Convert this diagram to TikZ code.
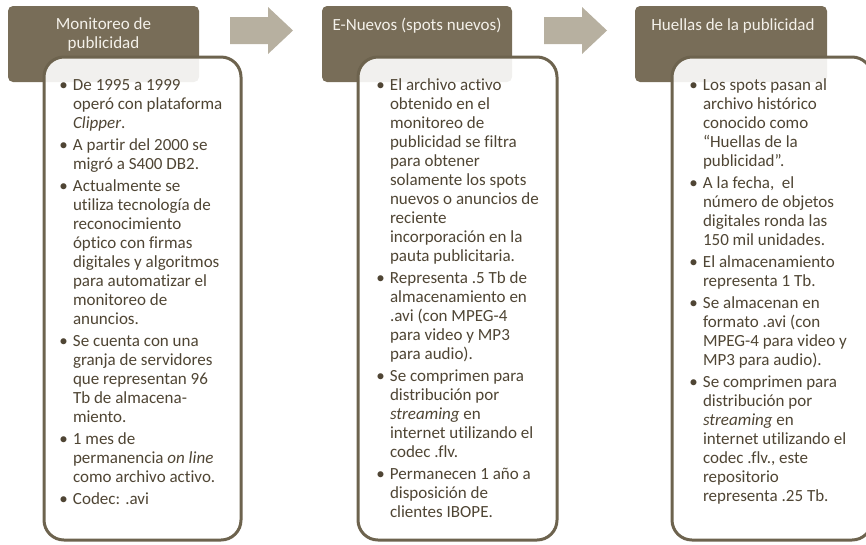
\documentclass[tikz,border=0pt]{standalone}
\usepackage{fontspec}
\setmainfont[Ligatures=NoCommon]{Carlito}
\definecolor{headc}{HTML}{786D58}
\definecolor{arrowc}{HTML}{B7B0A0}
\definecolor{borderc}{HTML}{6D634E}
\definecolor{headtext}{HTML}{F4F1EA}
\definecolor{bodytext}{HTML}{4F4534}
\newcommand{\bl}{\makebox[10.3pt][l]{•}}
\begin{document}
\begin{tikzpicture}[x=0.75pt,y=-0.75pt,
  header/.style={fill=headc, draw=none, rounded corners=3.75pt},
  panel/.style={draw=borderc, line width=2.25pt, fill=white, fill opacity=0.9, rounded corners=15pt},
  flowarrow/.style={fill=arrowc, draw=none},
  headlabel/.style={inner sep=0pt, anchor=base, text=headtext, font=\fontsize{12.75}{14.25}\selectfont},
  bodylabel/.style={inner sep=0pt, anchor=base west, text=bodytext, font=\fontsize{12.75}{14.25}\selectfont}]
\useasboundingbox (0,0) rectangle (866,544);
\clip (0,0) rectangle (866,544);
% headers
\path[header] (8,6) rectangle (199,82);
\path[header] (322,6) rectangle (512,82);
\path[header] (635,6) rectangle (827,82);
% arrows
\path[flowarrow] (230,17) -- (268,17) -- (268,7) -- (293,30.5) -- (268,54) -- (268,44) -- (230,44) -- cycle;
\path[flowarrow] (544,17) -- (582,17) -- (582,7) -- (607,30.5) -- (582,54) -- (582,44) -- (544,44) -- cycle;
% panels
\draw[panel] (44,57) rectangle (241,540);
\draw[panel] (358,57) rectangle (557,540);
\draw[panel] (672,57) rectangle (872,540);
% header labels
\node[headlabel] (h1) at (103.5,29.5) {\begin{tabular}[t]{@{}c@{}}Monitoreo de\\publicidad\end{tabular}};
\node[headlabel] (h2) at (417,30.5) {E-Nuevos (spots nuevos)};
\node[headlabel] (h3) at (733,30.5) {Huellas de la publicidad};
% body texts
\node[bodylabel] (b1) at (59,90.5) {\begin{tabular}[t]{@{}l@{}l@{}}
\bl & De 1995 a 1999\\
 & operó con plataforma\\
 & \textit{Clipper}.\\[2.25pt]
\bl & A partir del 2000 se\\
 & migró a S400 DB2.\\[2.25pt]
\bl & Actualmente se\\
 & utiliza tecnología de\\
 & reconocimiento\\
 & óptico con firmas\\
 & digitales y algoritmos\\
 & para automatizar el\\
 & monitoreo de\\
 & anuncios.\\[2.25pt]
\bl & Se cuenta con una\\
 & granja de servidores\\
 & que representan 96\\
 & Tb de almacena-\\
 & miento.\\[2.25pt]
\bl & 1 mes de\\
 & permanencia \textit{on line}\\
 & como archivo activo.\\[2.25pt]
\bl & Codec: .avi
\end{tabular}};
\node[bodylabel] (b2) at (376,90.5) {\begin{tabular}[t]{@{}l@{}l@{}}
\bl & El archivo activo\\
 & obtenido en el\\
 & monitoreo de\\
 & publicidad se filtra\\
 & para obtener\\
 & solamente los spots\\
 & nuevos o anuncios de\\
 & reciente\\
 & incorporación en la\\
 & pauta publicitaria.\\[2.25pt]
\bl & Representa .5 Tb de\\
 & almacenamiento en\\
 & .avi (con MPEG-4\\
 & para video y MP3\\
 & para audio).\\[2.25pt]
\bl & Se comprimen para\\
 & distribución por\\
 & \textit{streaming} en\\
 & internet utilizando el\\
 & codec .flv.\\[2.25pt]
\bl & Permanecen 1 año a\\
 & disposición de\\
 & clientes IBOPE.
\end{tabular}};
\node[bodylabel] (b3) at (689,90.5) {\begin{tabular}[t]{@{}l@{}l@{}}
\bl & Los spots pasan al\\
 & archivo histórico\\
 & conocido como\\
 & “Huellas de la\\
 & publicidad”.\\[2.25pt]
\bl & A la fecha,\ \ el\\
 & número de objetos\\
 & digitales ronda las\\
 & 150 mil unidades.\\[2.25pt]
\bl & El almacenamiento\\
 & representa 1 Tb.\\[2.25pt]
\bl & Se almacenan en\\
 & formato .avi (con\\
 & MPEG-4 para video y\\
 & MP3 para audio).\\[2.25pt]
\bl & Se comprimen para\\
 & distribución por\\
 & \textit{streaming} en\\
 & internet utilizando el\\
 & codec .flv., este\\
 & repositorio\\
 & representa .25 Tb.
\end{tabular}};
\end{tikzpicture}
\end{document}
